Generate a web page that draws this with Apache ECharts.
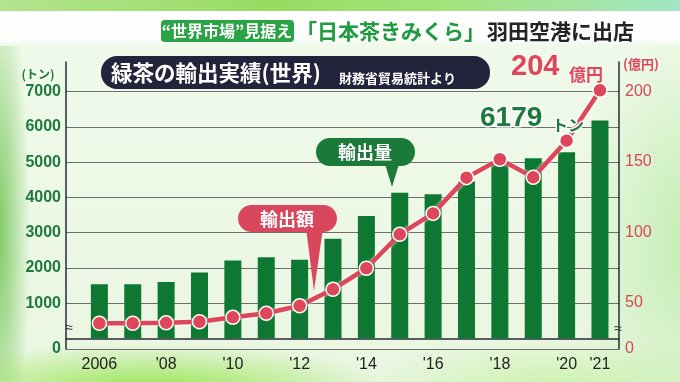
<!DOCTYPE html>
<html>
<head>
<meta charset="utf-8">
<script src="https://cdn.jsdelivr.net/npm/echarts@6/dist/echarts.min.js"></script>
<style>
html,body{margin:0;padding:0;width:680px;height:382px;overflow:hidden;}
#bg{position:absolute;left:0;top:0;width:680px;height:382px;
background:
 radial-gradient(ellipse 240px 45px at 150px 388px, rgba(150,228,80,0.95), rgba(150,228,80,0)),
 radial-gradient(ellipse 30px 260px at 0px 230px, rgba(110,195,80,0.85), rgba(110,195,80,0)),
 radial-gradient(ellipse 120px 220px at 690px 240px, rgba(185,235,165,0.8), rgba(185,235,165,0)),
 radial-gradient(ellipse 200px 50px at 560px 388px, rgba(190,240,150,0.7), rgba(190,240,150,0)),
 linear-gradient(180deg,#f1faec,#e9f6e1);}
#topstrip{position:absolute;left:0;top:0;width:680px;height:11px;
background:linear-gradient(90deg,#b2e48e,#98dc62 40%,#a4e27a 65%,#a2e6c4 100%);}
#band{position:absolute;left:0;top:11px;width:680px;height:35px;
background:linear-gradient(180deg,#ffffff,#fbfefa 80%,#eef8e8);}
#chart{position:absolute;left:0;top:0;width:680px;height:382px;}
</style>
</head>
<body>
<div id="bg"></div><div id="topstrip"></div><div id="band"></div>
<div id="chart"></div>
<script>
// ---- data ----
const years = [2006,2007,2008,2009,2010,2011,2012,2013,2014,2015,2016,2017,2018,2019,2020,2021];
const exportTons = [1540,1540,1600,1870,2210,2300,2230,2830,3470,4130,4090,4450,4920,5110,5280,6179];
const exportValue = [35.4,35.4,35.7,36.5,39.6,42.5,47.8,59.5,74.5,98.6,113.5,138.9,152,139.1,165.2,201];
const xTickYears = [2006,2008,2010,2012,2014,2016,2018,2020,2021];
const leftTicks = [1000,2000,3000,4000,5000,6000,7000];
const rightTicks = [50,100,150,200];
// axis breaks (bottom of each axis labelled 0)
const leftMin = -300, leftMax = 7840;
const rightMin = 17.1, rightMax = 221.1;

const CJK = '"Noto Sans CJK JP","Noto Sans",sans-serif';
const NUM = '"Liberation Sans",Arial,sans-serif';
const GREEN = '#0e7832', RED = '#de465a';

const chart = echarts.init(document.getElementById('chart'), null, {renderer:'canvas'});
const option = {
  animation:false,
  backgroundColor:'transparent',
  grid:{left:66, right:61, top:62, bottom:33, containLabel:false},
  xAxis:{
    type:'value', min:2005, max:2021.57,
    axisLine:{show:true, lineStyle:{color:'#2a2a3a', width:1.5}},
    axisTick:{show:false},
    splitLine:{show:false},
    axisLabel:{customValues:xTickYears, color:'#222', fontSize:16, fontFamily:NUM, margin:8,
      formatter:v=> v===2006 ? '2006' : "'" + String(v).slice(2)}
  },
  yAxis:[
    {type:'value', min:leftMin, max:leftMax, position:'left',
     axisLine:{show:true, lineStyle:{color:'#2a2a3a', width:1.5}},
     axisTick:{show:false, customValues:[leftMin].concat(leftTicks)},
     splitLine:{show:true, lineStyle:{color:'#6e6e6e', width:1.2}},
     axisLabel:{customValues:[leftMin].concat(leftTicks), color:'#1d7a3c', fontSize:16, fontWeight:'bold', fontFamily:NUM, margin:5,
       formatter:v=> v<0 ? '0' : String(v)}},
    {type:'value', min:rightMin, max:rightMax, position:'right',
     axisLine:{show:true, lineStyle:{color:'#2a2a3a', width:1.5}},
     axisTick:{show:false},
     splitLine:{show:false},
     axisLabel:{customValues:[rightMin].concat(rightTicks), color:'#d8475c', fontSize:16, fontFamily:NUM, margin:6,
       formatter:v=> v<20 ? '0' : String(v)}}
  ],
  series:[
    {type:'bar', name:'輸出量', yAxisIndex:0, barWidth:17, z:2,
     itemStyle:{color:GREEN},
     data:years.map((y,i)=>[y, exportTons[i]])},
    {type:'line', name:'輸出額', yAxisIndex:1, z:5,
     symbol:'circle', symbolSize:14,
     lineStyle:{color:RED, width:4.5, shadowColor:'rgba(255,255,255,0.95)', shadowBlur:3},
     itemStyle:{color:RED, borderColor:'#fff', borderWidth:1.5},
     data:years.map((y,i)=>[y, exportValue[i]])}
  ],
  graphic:[
    // header
    {type:'rect', shape:{x:161, y:20, width:133, height:22, r:4}, style:{fill:'#2aa346'}},
    {type:'text', x:227, y:31, style:{text:'“世界市場”見据え', fill:'#fff', font:'bold 16px '+CJK, align:'center', verticalAlign:'middle'}},
    {type:'text', x:296, y:31, style:{text:'「日本茶きみくら」', fill:'#1f9a3e', font:'bold 21px '+CJK, align:'left', verticalAlign:'middle'}},
    {type:'text', x:487, y:31, style:{text:'羽田空港に出店', fill:'#232323', font:'bold 21px '+CJK, align:'left', verticalAlign:'middle'}},
    // title box
    {type:'rect', shape:{x:101, y:56, width:389, height:33, r:16}, style:{fill:'#23243c'}},
    {type:'text', x:111, y:73, style:{text:'緑茶の輸出実績(世界)', fill:'#fff', font:'bold 21.5px '+CJK, align:'left', verticalAlign:'middle'}},
    {type:'text', x:339, y:78, style:{text:'財務省貿易統計より', fill:'#fff', font:'bold 13px '+CJK, align:'left', verticalAlign:'middle'}},
    // unit labels
    {type:'text', x:38, y:74, style:{text:'(トン)', fill:'#1d7a3c', font:'bold 12px '+CJK, align:'center', verticalAlign:'middle'}},
    {type:'text', x:641, y:64, style:{text:'(億円)', fill:'#d8475c', font:'bold 13px '+CJK, align:'center', verticalAlign:'middle'}},
    // 204億円
    {type:'text', x:511, y:81, style:{text:'204', fill:'#e0455c', font:'bold 29px '+NUM, align:'left', verticalAlign:'bottom'}},
    {type:'text', x:569, y:83, style:{text:'億円', fill:'#e0455c', font:'bold 17px '+CJK, align:'left', verticalAlign:'bottom'}},
    // 6179トン
    {type:'text', x:480, y:132, z:20, style:{text:'6179', fill:'#1d7a3c', font:'bold 28px '+NUM, align:'left', verticalAlign:'bottom', stroke:'#fff', lineWidth:3}},
    {type:'text', x:552, y:133, z:20, style:{text:'トン', fill:'#1d7a3c', font:'bold 16px '+CJK, align:'left', verticalAlign:'bottom', stroke:'#fff', lineWidth:3}},
    // callout 輸出量
    {type:'polygon', z:20, shape:{points:[[385,164],[399,164],[392,187]]}, style:{fill:'#1b7a3a'}},
    {type:'rect', z:20, shape:{x:316, y:138, width:99, height:28, r:14}, style:{fill:'#1b7a3a'}},
    {type:'text', z:21, x:365, y:152, style:{text:'輸出量', fill:'#fff', font:'bold 18px '+CJK, align:'center', verticalAlign:'middle'}},
    // callout 輸出額
    {type:'polygon', z:20, shape:{points:[[306,228],[323,228],[314,291]]}, style:{fill:'#d9475d'}},
    {type:'rect', z:20, shape:{x:238, y:205, width:99, height:27, r:13.5}, style:{fill:'#d9475d'}},
    {type:'text', z:21, x:287, y:219, style:{text:'輸出額', fill:'#fff', font:'bold 18px '+CJK, align:'center', verticalAlign:'middle'}},
    // break marks
    {type:'text', x:69, y:328, style:{text:'≈', fill:'#333', font:'14px '+NUM, align:'center', verticalAlign:'middle'}},
    {type:'text', x:618, y:329, style:{text:'≈', fill:'#333', font:'14px '+NUM, align:'center', verticalAlign:'middle'}}
  ]
};
chart.setOption(option);
</script>
</body>
</html>
